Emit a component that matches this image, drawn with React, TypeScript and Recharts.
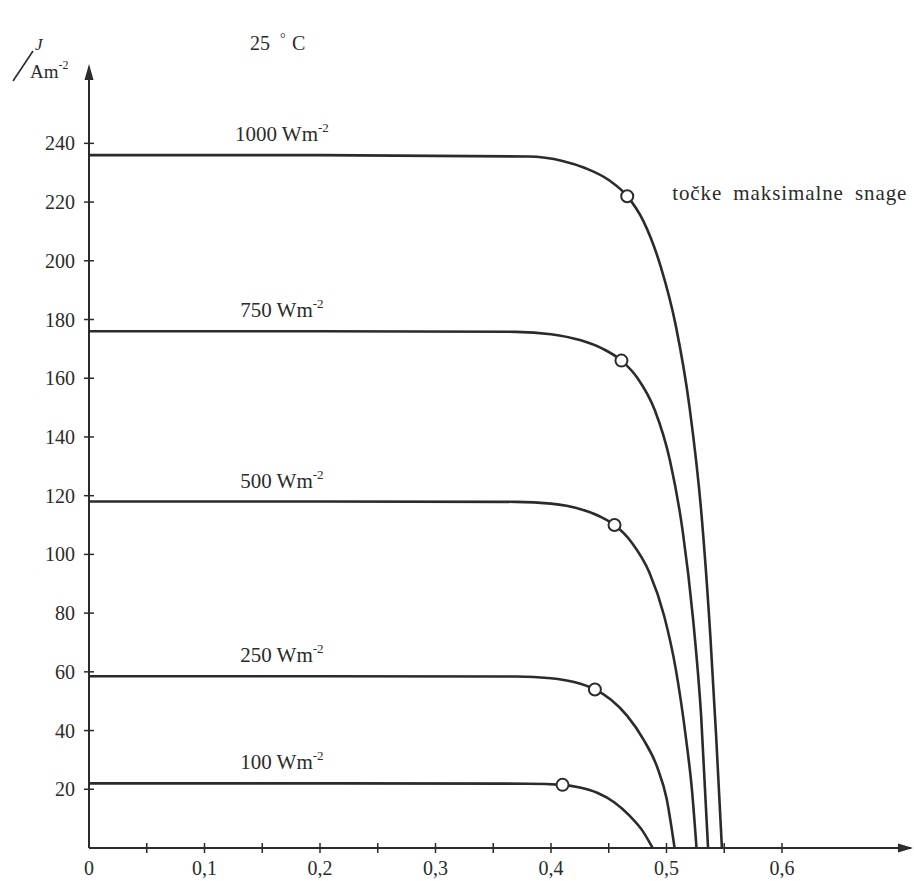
import React from 'react';
import { ComposedChart, Line, Scatter, XAxis, YAxis, ReferenceDot } from 'recharts';

// I-V krivulje solarne ćelije pri 25 °C, očitano sa slike: [napon V, gustoća struje J]
const CURVE_1000: [number, number][] = [
  [0, 236], [0.2, 236], [0.38, 235.5], [0.41, 234], [0.43, 231.5], [0.45, 227.5], [0.466, 222],
  [0.48, 213.5], [0.495, 198], [0.508, 178], [0.52, 150], [0.53, 115], [0.538, 72], [0.543, 38], [0.548, 0],
];
const CURVE_750: [number, number][] = [
  [0, 176], [0.2, 176], [0.37, 175.8], [0.4, 175], [0.425, 173], [0.445, 170], [0.461, 166],
  [0.475, 160], [0.49, 149], [0.503, 132], [0.514, 108], [0.523, 78], [0.53, 45], [0.536, 0],
];
const CURVE_500: [number, number][] = [
  [0, 118], [0.2, 118], [0.37, 117.9], [0.4, 117.3], [0.425, 115.5], [0.442, 113], [0.455, 110],
  [0.47, 104], [0.485, 94], [0.498, 79], [0.508, 61], [0.517, 37], [0.522, 20], [0.526, 0],
];
const CURVE_250: [number, number][] = [
  [0, 58.5], [0.2, 58.5], [0.37, 58.4], [0.4, 57.8], [0.42, 56.5], [0.438, 54],
  [0.452, 50.5], [0.466, 45], [0.48, 37], [0.492, 27.5], [0.5, 17], [0.507, 0],
];
const CURVE_100: [number, number][] = [
  [0, 22], [0.2, 22], [0.38, 21.9], [0.41, 21.5], [0.425, 20.6], [0.44, 18.8],
  [0.455, 15.5], [0.468, 11], [0.479, 6], [0.488, 0],
];

const IRRADIANCE = ['1000', '750', '500', '250', '100'];
const CURVES = [CURVE_1000, CURVE_750, CURVE_500, CURVE_250, CURVE_100];

// točke maksimalne snage
const MPP_V = [0.466, 0.461, 0.455, 0.438, 0.41];
const MPP_J = [222, 166, 110, 54, 21.5];

const X_TICKS = [0, 0.05, 0.1, 0.15, 0.2, 0.25, 0.3, 0.35, 0.4, 0.45, 0.5, 0.55, 0.6];
const X_LABELS = [0, 0.1, 0.2, 0.3, 0.4, 0.5, 0.6];
const Y_TICKS = [20, 40, 60, 80, 100, 120, 140, 160, 180, 200, 220, 240];

const X_MAX = 0.7117;
const Y_MAX = 266;

const INK = '#2b2b2b';
const FONT = '"Liberation Serif", "Times New Roman", serif';

const toRows = (c: [number, number][]) => c.map(([v, j]) => ({ v, j }));
const mppRows = MPP_V.map((v, i) => ({ v, j: MPP_J[i] }));

function XTick({ x, y, payload }: any) {
  const v = payload.value as number;
  const labeled = X_LABELS.includes(v);
  return (
    <g>
      {v > 0 && <line x1={x} x2={x} y1={y - 5} y2={y + 5} stroke={INK} strokeWidth={1.5} />}
      {labeled && (
        <text x={x} y={y + 27} textAnchor="middle" fontSize={20} fill={INK} fontFamily={FONT}>
          {String(v).replace('.', ',')}
        </text>
      )}
    </g>
  );
}

function YTick({ x, y, payload }: any) {
  return (
    <g>
      <line x1={x - 5} x2={x + 5} y1={y} y2={y} stroke={INK} strokeWidth={1.5} />
      <text x={x - 14} y={y + 7} textAnchor="end" fontSize={20} fill={INK} fontFamily={FONT}>
        {payload.value}
      </text>
    </g>
  );
}

const MppDot = ({ cx, cy }: any) => (
  <circle cx={cx} cy={cy} r={6} fill="#fff" stroke={INK} strokeWidth={2} />
);

export default function App() {
  return (
    <div style={{ position: 'absolute', left: 0, top: 0, width: 914, height: 881, background: '#fff' }}>
      <ComposedChart width={914} height={881} margin={{ top: 67, right: 3, bottom: 0, left: 9 }}>
        <XAxis
          type="number"
          dataKey="v"
          domain={[0, X_MAX]}
          ticks={X_TICKS}
          interval={0}
          tick={<XTick />}
          tickLine={false}
          tickSize={0}
          tickMargin={0}
          height={33}
          axisLine={{ stroke: INK, strokeWidth: 2 }}
          allowDataOverflow
        />
        <YAxis
          type="number"
          domain={[0, Y_MAX]}
          ticks={Y_TICKS}
          interval={0}
          tick={<YTick />}
          tickLine={false}
          tickSize={0}
          tickMargin={0}
          width={80}
          axisLine={{ stroke: INK, strokeWidth: 2 }}
          allowDataOverflow
        />
        {CURVES.map((c, i) => (
          <Line
            key={IRRADIANCE[i]}
            data={toRows(c)}
            dataKey="j"
            type="monotone"
            stroke={INK}
            strokeWidth={2.6}
            dot={false}
            activeDot={false}
            isAnimationActive={false}
          />
        ))}
        <Scatter data={mppRows} dataKey="j" shape={<MppDot />} isAnimationActive={false} />

        {CURVES.map((c, i) => (
          <ReferenceDot
            key={'lbl' + i}
            x={0.167}
            y={c[0][1]}
            ifOverflow="visible"
            shape={({ cx, cy }: any) => (
              <text x={cx} y={cy - 14} textAnchor="middle" fontSize={21} fill={INK} fontFamily={FONT}>
                {IRRADIANCE[i]} Wm
                <tspan fontSize={13} dy={-9}>-2</tspan>
              </text>
            )}
          />
        ))}

        <ReferenceDot
          x={MPP_V[0]}
          y={MPP_J[0]}
          ifOverflow="visible"
          shape={({ cx, cy }: any) => (
            <text x={cx + 45} y={cy + 4} fontSize={21} fill={INK} fontFamily={FONT} letterSpacing={0.9} wordSpacing={5}>
              točke maksimalne snage
            </text>
          )}
        />

        {/* strelice osi i oznake */}
        <ReferenceDot
          x={X_MAX}
          y={0}
          ifOverflow="visible"
          shape={({ cx, cy }: any) => (
            <polygon points={`${cx + 2},${cy} ${cx - 13},${cy - 4.5} ${cx - 13},${cy + 4.5}`} fill={INK} />
          )}
        />
        <ReferenceDot
          x={0}
          y={Y_MAX}
          ifOverflow="visible"
          shape={({ cx, cy }: any) => (
            <g fontFamily={FONT} fill={INK}>
              <polygon points={`${cx},${cy - 3} ${cx - 4.5},${cy + 13} ${cx + 4.5},${cy + 13}`} />
              <text x={cx - 54} y={cy - 17} fontSize={17} fontStyle="italic">J</text>
              <line x1={cx - 76} y1={cy + 14} x2={cx - 56} y2={cy - 16} stroke={INK} strokeWidth={1.6} />
              <text x={cx - 59} y={cy + 11} fontSize={19}>
                Am<tspan fontSize={12} dy={-9}>-2</tspan>
              </text>
              <text x={cx + 161} y={cy - 17} fontSize={20}>25</text>
              <text x={cx + 191} y={cy - 24} fontSize={14}>°</text>
              <text x={cx + 203} y={cy - 17} fontSize={20}>C</text>
            </g>
          )}
        />
      </ComposedChart>
    </div>
  );
}
